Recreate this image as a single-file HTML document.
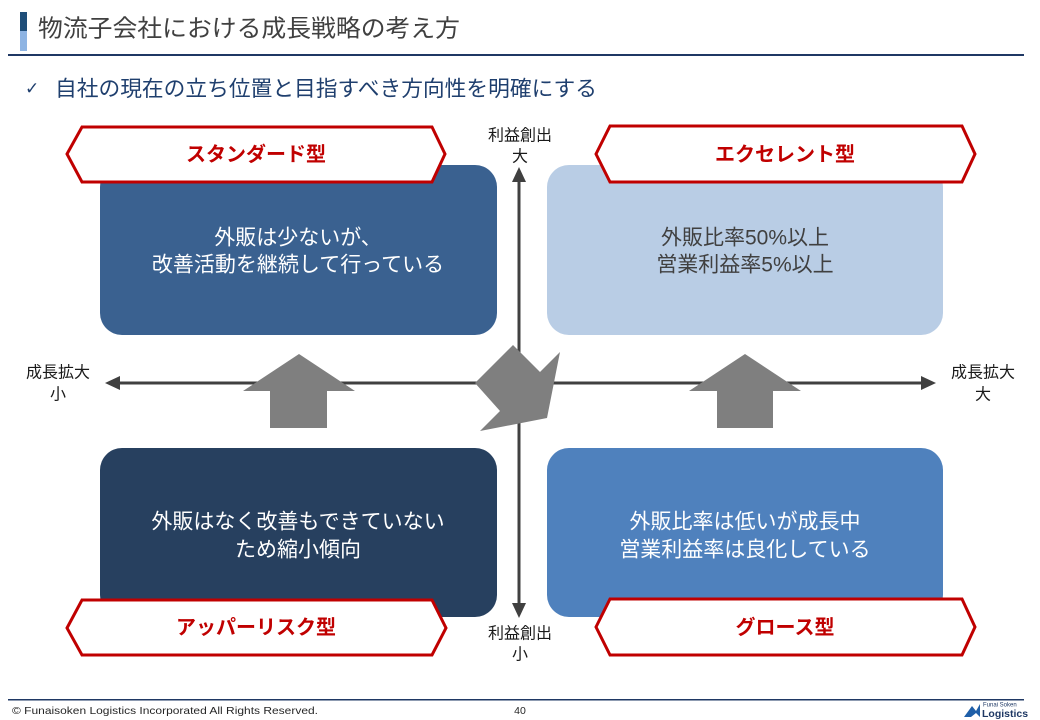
<!DOCTYPE html>
<html>
<head>
<meta charset="utf-8">
<style>
  html,body{margin:0;padding:0;background:#fff;}
  body{width:1040px;height:720px;overflow:hidden;}
  svg{display:block;}
  .jp{font-family:"Liberation Sans","Noto Sans CJK JP",sans-serif;}
</style>
</head>
<body>
<svg width="1040" height="720" viewBox="0 0 1040 720" xmlns="http://www.w3.org/2000/svg">
  <!-- Title bar -->
  <rect x="20" y="12" width="7" height="19" fill="#1f4e79"/>
  <rect x="20" y="31" width="7" height="20" fill="#8eb4e3"/>
  <text x="38" y="29" class="jp" font-size="24" fill="#404040" dominant-baseline="central" textLength="422" lengthAdjust="spacingAndGlyphs">物流子会社における成長戦略の考え方</text>
  <rect x="8" y="54" width="1016" height="2" fill="#1f3864"/>

  <!-- Subtitle -->
  <text x="25" y="89" font-family="DejaVu Sans, sans-serif" font-size="17" fill="#1f3f6e" dominant-baseline="central">✓</text>
  <text x="55" y="89" class="jp" font-size="21.5" fill="#1f3f6e" dominant-baseline="central" textLength="542" lengthAdjust="spacingAndGlyphs">自社の現在の立ち位置と目指すべき方向性を明確にする</text>

  <!-- Quadrant boxes -->
  <rect x="100" y="165" width="397" height="170" rx="22" fill="#3a6190"/>
  <rect x="547" y="165" width="396" height="170" rx="22" fill="#b9cde5"/>
  <rect x="100" y="448" width="397" height="169" rx="22" fill="#27405f"/>
  <rect x="547" y="448" width="396" height="169" rx="22" fill="#4f81bd"/>

  <!-- Box texts -->
  <g class="jp" font-size="21" text-anchor="middle" dominant-baseline="central">
    <text x="298" y="238" fill="#ffffff">外販は少ないが、</text>
    <text x="298" y="265" fill="#ffffff">改善活動を継続して行っている</text>
    <text x="745" y="238" fill="#404040">外販比率50%以上</text>
    <text x="745" y="265" fill="#404040">営業利益率5%以上</text>
    <text x="298" y="522" fill="#ffffff">外販はなく改善もできていない</text>
    <text x="298" y="550" fill="#ffffff">ため縮小傾向</text>
    <text x="745" y="522" fill="#ffffff">外販比率は低いが成長中</text>
    <text x="745" y="550" fill="#ffffff">営業利益率は良化している</text>
  </g>

  <!-- Axes -->
  <line x1="112" y1="383" x2="928" y2="383" stroke="#404040" stroke-width="3"/>
  <polygon points="105,383 120,376 120,390" fill="#404040"/>
  <polygon points="936,383 921,376 921,390" fill="#404040"/>
  <line x1="519" y1="175" x2="519" y2="610" stroke="#404040" stroke-width="3"/>
  <polygon points="519,167 512,182 526,182" fill="#404040"/>
  <polygon points="519,618 512,603 526,603" fill="#404040"/>

  <!-- Axis labels -->
  <g class="jp" font-size="16" fill="#1a1a1a" text-anchor="middle" dominant-baseline="central">
    <text x="58" y="373">成長拡大</text>
    <text x="58" y="395">小</text>
    <text x="983" y="373">成長拡大</text>
    <text x="983" y="395">大</text>
    <text x="520" y="136">利益創出</text>
    <text x="520" y="157">大</text>
    <text x="520" y="634">利益創出</text>
    <text x="520" y="655">小</text>
  </g>

  <!-- Up arrows -->
  <polygon points="299,354 355,391 327,391 327,428 270,428 270,391 243,391" fill="#7f7f7f"/>
  <polygon points="745,354 801,391 773,391 773,428 717,428 717,391 689,391" fill="#7f7f7f"/>

  <!-- Center rotated arrow -->
  <polygon points="513,345 540,372 560,352 547,418 480,431 500,411 475,383" fill="#7f7f7f"/>

  <!-- Hexagon labels -->
  <g fill="#ffffff" stroke="#c00000" stroke-width="3" stroke-linejoin="miter">
    <polygon points="67,154 82,127 432,127 445,154 432,182 82,182"/>
    <polygon points="596,154 610,126 962,126 975,154 962,182 610,182"/>
    <polygon points="67,628 82,600 432,600 446,628 432,655 82,655"/>
    <polygon points="596,627 610,599 962,599 975,627 962,655 610,655"/>
  </g>
  <g class="jp" font-size="20" font-weight="bold" fill="#c00000" text-anchor="middle" dominant-baseline="central">
    <text x="256" y="155">スタンダード型</text>
    <text x="785" y="155">エクセレント型</text>
    <text x="256" y="628">アッパーリスク型</text>
    <text x="785" y="628">グロース型</text>
  </g>

  <!-- Footer -->
  <rect x="8" y="699" width="1016" height="1.5" fill="#1f3864"/>
  <text x="12" y="711" font-family="Liberation Sans, sans-serif" font-size="10.5" fill="#262626" dominant-baseline="central" textLength="306" lengthAdjust="spacingAndGlyphs">© Funaisoken Logistics Incorporated All Rights Reserved.</text>
  <text x="520" y="711" font-family="Liberation Sans, sans-serif" font-size="10.5" fill="#262626" text-anchor="middle" dominant-baseline="central">40</text>

  <!-- Logo -->
  <path d="M964,717 L972,706 L976,711 L980,704 L980,717 L976,713 L971,717 Z" fill="#1f5fa8"/>
  <text x="983" y="705.5" font-family="Liberation Sans, sans-serif" font-size="6" fill="#1f3864" dominant-baseline="central">Funai Soken</text>
  <text x="982" y="714" font-family="Liberation Sans, sans-serif" font-size="10.5" font-weight="bold" fill="#1f3864" dominant-baseline="central">Logistics</text>
</svg>
</body>
</html>
